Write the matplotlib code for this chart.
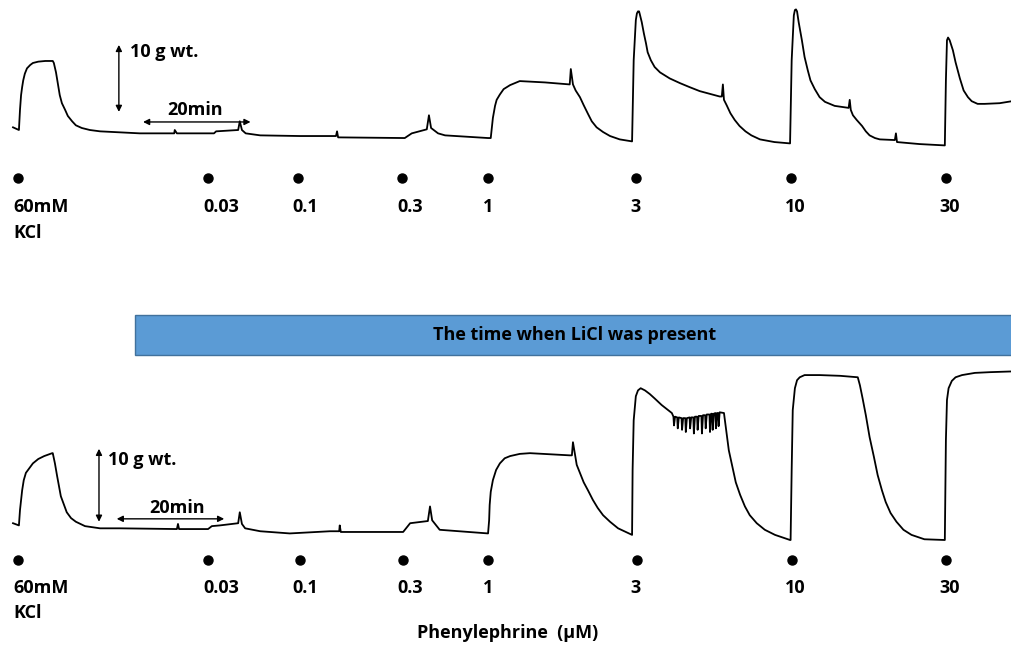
import numpy as np
import matplotlib.pyplot as plt
from matplotlib.patches import Rectangle

# top trace (control): [time (min), tension (g)]
top_trace = np.array([
    [0.0, 3.4], [1.1, 3.0], [1.3, 6.0], [1.5, 8.2], [1.7, 9.4], [1.9, 10.4], [2.2, 11.4],
    [2.6, 12.2], [3.2, 12.7], [3.7, 13.0], [4.7, 13.2], [6.0, 13.3], [7.4, 13.3], [7.6, 13.0],
    [8.0, 11.6], [8.4, 9.7], [8.7, 8.2], [9.1, 7.0], [9.7, 6.0], [10.2, 5.1], [11.0, 4.3],
    [11.7, 3.7], [12.8, 3.3], [14.3, 3.0], [16.2, 2.8], [23.6, 2.5], [30.0, 2.5], [30.1, 3.0],
    [30.5, 2.5], [37.4, 2.5], [37.8, 2.8], [41.9, 3.0], [42.2, 4.3], [42.6, 3.0], [43.3, 2.5],
    [46.0, 2.2], [53.4, 2.1], [60.1, 2.1], [60.3, 2.8], [60.5, 1.9], [72.9, 1.8], [74.2, 2.5],
    [77.0, 3.1], [77.4, 5.2], [77.8, 3.3], [79.1, 2.5], [80.4, 2.2], [88.4, 1.8], [88.9, 1.8],
    [89.1, 3.3], [89.3, 4.8], [89.7, 6.6], [90.0, 7.5], [90.6, 8.3], [91.3, 9.1], [92.5, 9.7],
    [93.4, 10.0], [94.3, 10.3], [99.0, 10.1], [103.6, 9.8], [103.8, 12.1], [104.2, 9.8],
    [104.7, 8.9], [105.5, 7.9], [106.2, 6.7], [107.0, 5.4], [107.7, 4.3], [108.6, 3.4],
    [109.8, 2.7], [111.1, 2.1], [112.9, 1.6], [115.2, 1.3], [115.5, 13.4], [115.9, 19.4],
    [116.1, 20.4], [116.3, 20.7], [116.5, 20.7], [116.6, 20.4], [117.0, 19.1], [117.4, 17.4],
    [117.8, 15.9], [118.1, 14.6], [118.7, 13.4], [119.4, 12.4], [120.4, 11.6], [122.2, 10.7],
    [124.1, 10.0], [125.9, 9.4], [127.8, 8.8], [131.5, 8.0], [131.9, 8.0], [132.1, 9.8],
    [132.3, 7.5], [132.8, 6.7], [133.5, 5.5], [134.3, 4.5], [135.2, 3.6], [136.3, 2.8],
    [137.4, 2.2], [139.0, 1.6], [141.7, 1.2], [144.6, 1.0], [144.9, 13.4], [145.3, 20.1],
    [145.5, 20.9], [145.7, 21.0], [145.9, 20.7], [146.2, 19.1], [146.8, 16.4], [147.3, 13.9],
    [147.9, 11.9], [148.4, 10.4], [149.2, 9.1], [150.1, 7.9], [151.1, 7.2], [152.9, 6.6],
    [155.5, 6.3], [155.7, 7.5], [155.9, 6.0], [156.3, 5.2], [157.0, 4.5], [158.0, 3.6],
    [158.7, 2.8], [159.4, 2.2], [160.4, 1.8], [161.3, 1.6], [164.1, 1.5], [164.3, 2.5],
    [164.5, 1.2], [168.7, 0.9], [173.4, 0.7], [173.6, 10.4], [173.8, 16.4], [174.0, 16.8],
    [174.3, 16.4], [174.9, 14.9], [175.4, 13.1], [176.2, 10.7], [176.9, 8.9], [177.7, 7.9],
    [178.4, 7.3], [179.5, 6.9], [180.8, 6.9], [183.6, 7.0], [185.9, 7.3],
])

# bottom trace (LiCl present)
bot_trace = np.array([
    [0.0, 3.0], [1.1, 2.7], [1.3, 4.8], [1.5, 6.2], [1.7, 7.5], [2.0, 8.9], [2.4, 9.9],
    [3.0, 10.5], [3.7, 11.2], [4.7, 11.8], [5.8, 12.2], [7.3, 12.6], [7.4, 12.6], [7.8, 11.2],
    [8.2, 9.5], [8.6, 7.9], [8.9, 6.7], [9.5, 5.5], [10.0, 4.5], [10.8, 3.7], [11.7, 3.2],
    [13.4, 2.6], [16.2, 2.3], [19.9, 2.3], [30.5, 2.2], [30.7, 2.9], [30.9, 2.2], [36.3, 2.2],
    [37.0, 2.6], [38.5, 2.7], [41.9, 3.0], [42.2, 4.5], [42.6, 2.9], [43.2, 2.3], [46.0, 1.9],
    [51.5, 1.6], [59.0, 1.9], [60.7, 1.9], [60.8, 2.7], [61.0, 1.8], [72.6, 1.8], [73.9, 3.0],
    [77.2, 3.3], [77.6, 5.3], [78.0, 3.4], [79.4, 2.1], [88.4, 1.6], [88.6, 3.4], [88.7, 5.5],
    [88.9, 7.3], [89.3, 8.9], [89.9, 10.3], [90.6, 11.2], [91.5, 11.9], [92.5, 12.2],
    [94.3, 12.5], [96.2, 12.6], [103.6, 12.3], [104.0, 12.3], [104.2, 14.1], [104.6, 12.3],
    [104.9, 11.0], [105.5, 9.9], [106.2, 8.6], [107.0, 7.5], [107.9, 6.2], [108.8, 5.1],
    [109.8, 4.1], [111.1, 3.2], [112.6, 2.3], [115.2, 1.4], [115.3, 10.3], [115.5, 17.1],
    [115.9, 20.4], [116.3, 21.2], [116.8, 21.5], [117.6, 21.2], [118.5, 20.7], [119.4, 20.1],
    [120.7, 19.2], [121.9, 18.5], [122.6, 18.1],
    # oscillations on the 3 uM plateau
    [122.9, 17.6], [123.0, 16.4], [123.2, 17.6], [123.6, 17.5], [123.7, 16.0], [123.9, 17.5],
    [124.4, 17.4], [124.5, 15.8], [124.7, 17.4], [125.1, 17.4], [125.2, 15.5], [125.4, 17.4],
    [125.9, 17.5], [126.0, 16.0], [126.2, 17.5], [126.6, 17.5], [126.7, 15.3], [126.9, 17.6],
    [127.3, 17.6], [127.4, 15.8], [127.6, 17.7], [128.1, 17.7], [128.2, 15.3], [128.4, 17.8],
    [128.8, 17.8], [128.9, 16.0], [129.1, 17.9], [129.6, 17.9], [129.7, 15.5], [129.9, 18.0],
    [130.1, 18.0], [130.2, 15.8], [130.4, 18.0], [130.7, 18.1], [130.8, 16.0], [131.0, 18.1],
    [131.2, 18.1], [131.3, 16.3], [131.5, 18.2], [132.3, 18.1],
    [132.7, 15.8], [133.2, 13.0], [133.8, 11.0], [134.5, 8.6], [135.3, 6.9], [136.2, 5.3],
    [137.1, 4.1], [138.4, 3.0], [139.9, 2.1], [141.8, 1.4], [144.6, 0.7], [144.7, 0.7],
    [144.9, 10.3], [145.1, 18.5], [145.5, 21.5], [145.9, 22.6], [146.4, 23.0], [147.3, 23.3],
    [150.1, 23.3], [153.9, 23.2], [157.2, 23.0], [157.6, 21.9], [158.1, 20.1], [158.7, 17.8],
    [159.4, 14.8], [160.2, 12.1], [160.9, 9.6], [161.7, 7.5], [162.4, 5.9], [163.3, 4.4],
    [164.4, 3.2], [165.7, 2.1], [167.2, 1.4], [169.6, 0.8], [173.2, 0.7], [173.4, 0.7],
    [173.6, 14.4], [173.8, 19.9], [174.1, 21.5], [174.7, 22.5], [175.4, 23.0], [176.6, 23.3],
    [179.0, 23.6], [181.8, 23.7], [185.9, 23.8],
])

# drug additions
dose_labels = ['0.03', '0.1', '0.3', '1', '3', '10', '30']
add_t_top = [0.9, 36.3, 53.0, 72.4, 88.4, 115.9, 144.7, 173.6]
add_t_bot = [0.9, 36.3, 53.4, 72.6, 88.4, 116.1, 144.9, 173.6]
label_t = [38.7, 54.4, 73.9, 88.4, 115.9, 145.6, 174.3]

FONT = ['Open Sans', 'DejaVu Sans']
FS = 13
W = 'bold'

fig = plt.figure(figsize=(10.12, 6.48), dpi=100)

ax1 = fig.add_axes([0, 0, 1, 1])
ax1.set_xlim(-2.42, 185.9)
ax1.set_ylim(-74.3, 22.4)
ax1.axis('off')

ax2 = fig.add_axes([0, 0, 1, 1])
ax2.set_xlim(-2.42, 185.9)
ax2.set_ylim(-14.1, 74.7)
ax2.axis('off')
ax2.patch.set_alpha(0)


def draw_panel(ax, trace, add_t, dot_y, lab_y, kcl_y, vbar, hbar, vtxt, htxt):
    ax.plot(trace[:, 0], trace[:, 1], color='black', lw=1.3)
    ax.plot(add_t, [dot_y] * len(add_t), 'o', color='black', ms=6.5)
    ax.text(add_t[0] - 0.9, lab_y, '60mM', ha='left', va='center',
            family=FONT, weight=W, fontsize=FS)
    ax.text(add_t[0] - 0.9, kcl_y, 'KCl', ha='left', va='center',
            family=FONT, weight=W, fontsize=FS)
    for lt, lab in zip(label_t, dose_labels):
        ax.text(lt, lab_y, lab, ha='center', va='center',
                family=FONT, weight=W, fontsize=FS)
    arr = dict(arrowstyle='<|-|>', mutation_scale=9, lw=1.0, color='black',
               shrinkA=0, shrinkB=0)
    ax.annotate('', xy=(vbar[0], vbar[1]), xytext=(vbar[0], vbar[2]), arrowprops=arr)
    ax.annotate('', xy=(hbar[0], hbar[2]), xytext=(hbar[1], hbar[2]), arrowprops=arr)
    ax.text(vtxt[0], vtxt[1], '10 g wt.', ha='left', va='center',
            family=FONT, weight=W, fontsize=FS)
    ax.text(htxt[0], htxt[1], '20min', ha='center', va='center',
            family=FONT, weight=W, fontsize=FS)


draw_panel(ax1, top_trace, add_t_top, -4.2, -8.5, -12.4,
           (19.7, 15.7, 5.7), (24.2, 44.2, 4.2), (21.8, 14.6), (33.9, 6.0))
draw_panel(ax2, bot_trace, add_t_bot, -2.1, -5.9, -9.3,
           (16.0, 13.2, 3.2), (19.3, 39.3, 3.6), (17.7, 11.6), (30.5, 5.1))

# LiCl bar
fig.patches.append(Rectangle((135 / 1012, 1 - 355 / 648), 877 / 1012, 40 / 648,
                             transform=fig.transFigure, facecolor='#5B9BD5',
                             edgecolor='#41719C', lw=1.0))
fig.text(575 / 1012, 1 - 335 / 648, 'The time when LiCl was present', ha='center',
         va='center', family=FONT, weight=W, fontsize=FS)

fig.text(508 / 1012, 1 - 633 / 648, 'Phenylephrine  (\u00b5M)', ha='center', va='center',
         family=FONT, weight=W, fontsize=FS)

fig.savefig('out.png', dpi=100, facecolor='white')
